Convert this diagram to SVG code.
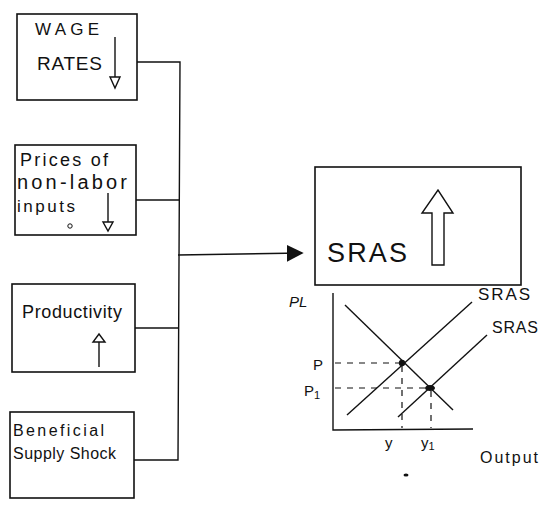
<svg xmlns="http://www.w3.org/2000/svg" width="548" height="506" viewBox="0 0 548 506">
<style>
.box{fill:none;stroke:#111;stroke-width:1.6}
.ln{fill:none;stroke:#111;stroke-width:1.4}
.dash{fill:none;stroke:#111;stroke-width:1.2;stroke-dasharray:6 6}
.hollow{fill:#fff;stroke:#111;stroke-width:1.4}
.t{font-family:"Liberation Sans",Arial,sans-serif;fill:#111}
</style>
<defs>
<marker id="fill" viewBox="0 0 10 10" refX="9" refY="5" markerWidth="17" markerHeight="17" markerUnits="userSpaceOnUse" orient="auto">
<path d="M0,0 L10,5 L0,10 Z" fill="#111"/>
</marker>
</defs>
<rect width="548" height="506" fill="#fff"/>

<g id="wage-rates">
<rect class="box" x="17" y="14" width="120" height="86"/>
<text class="t" x="35" y="35" font-size="17" textLength="64">WAGE</text>
<text class="t" x="37" y="70" font-size="19" textLength="65">RATES</text>
<line class="ln" x1="115" y1="37" x2="115" y2="78"/>
<path class="hollow" d="M110,77 L120,77 L115,88 Z"/>
</g>

<g id="non-labor">
<rect class="box" x="15" y="145" width="121" height="90"/>
<text class="t" x="20" y="166" font-size="18" textLength="88">Prices of</text>
<text class="t" x="17" y="189" font-size="20" textLength="110">non-labor</text>
<text class="t" x="17" y="212" font-size="17" textLength="58">inputs</text>
<line class="ln" x1="108" y1="193" x2="108" y2="222"/>
<path class="hollow" d="M103,222 L113,222 L108,231 Z"/>
<circle cx="70" cy="226" r="2.2" fill="none" stroke="#111" stroke-width="1"/>
</g>

<g id="productivity">
<rect class="box" x="12" y="284" width="123" height="88"/>
<text class="t" x="22" y="318" font-size="18" textLength="100">Productivity</text>
<line class="ln" x1="99" y1="367" x2="99" y2="342"/>
<path class="hollow" d="M93,342 L105,342 L99,334 Z"/>
</g>

<g id="supply-shock">
<rect class="box" x="10" y="412" width="124" height="86"/>
<text class="t" x="13" y="436" font-size="16" textLength="91">Beneficial</text>
<text class="t" x="13" y="459" font-size="16" textLength="103">Supply Shock</text>
</g>

<g id="connectors">
<polyline class="ln" points="137,62 180,62 178,460 134,460"/>
<line class="ln" x1="136" y1="200" x2="179" y2="200"/>
<line class="ln" x1="135" y1="328" x2="178" y2="328"/>
<line class="ln" x1="178" y1="255" x2="302" y2="253" stroke-width="1.8" marker-end="url(#fill)"/>
</g>

<g id="sras">
<rect class="box" x="315" y="167" width="206" height="118"/>
<text class="t" x="327" y="262" font-size="27" textLength="80">SRAS</text>
<path class="hollow" d="M432,265 L444,265 L444,213 L453,213 L438,190 L422,213 L432,213 Z"/>
</g>

<g id="graph">
<polyline class="ln" points="333,293 333,430 473,429" stroke-width="1.8"/>
<text class="t" x="289" y="307" font-size="15" font-style="italic">PL</text>
<line class="ln" x1="345" y1="305" x2="453" y2="410"/>
<line class="ln" x1="347" y1="415" x2="472" y2="302"/>
<line class="ln" x1="398" y1="417" x2="487" y2="335"/>
<line class="dash" x1="335" y1="363" x2="400" y2="363"/>
<line class="dash" x1="402" y1="366" x2="402" y2="428"/>
<line class="dash" x1="335" y1="388" x2="428" y2="388"/>
<line class="dash" x1="431" y1="391" x2="431" y2="428"/>
<circle cx="402" cy="363" r="3.2" fill="#111"/>
<ellipse cx="430" cy="388" rx="5" ry="3" fill="#111"/>
<text class="t" x="313" y="370" font-size="15">P</text>
<text class="t" x="304" y="396" font-size="15">P<tspan font-size="11" dy="3">1</tspan></text>
<text class="t" x="478" y="300" font-size="17" textLength="52">SRAS</text>
<text class="t" x="492" y="333" font-size="16" textLength="46">SRAS</text>
<text class="t" x="385" y="448" font-size="15">y</text>
<text class="t" x="421" y="448" font-size="15">y<tspan font-size="11" dy="2">1</tspan></text>
<text class="t" x="480" y="463" font-size="16" textLength="58">Output</text>
<ellipse cx="406" cy="475" rx="2.5" ry="1.5" fill="#111"/>
</g>
</svg>
